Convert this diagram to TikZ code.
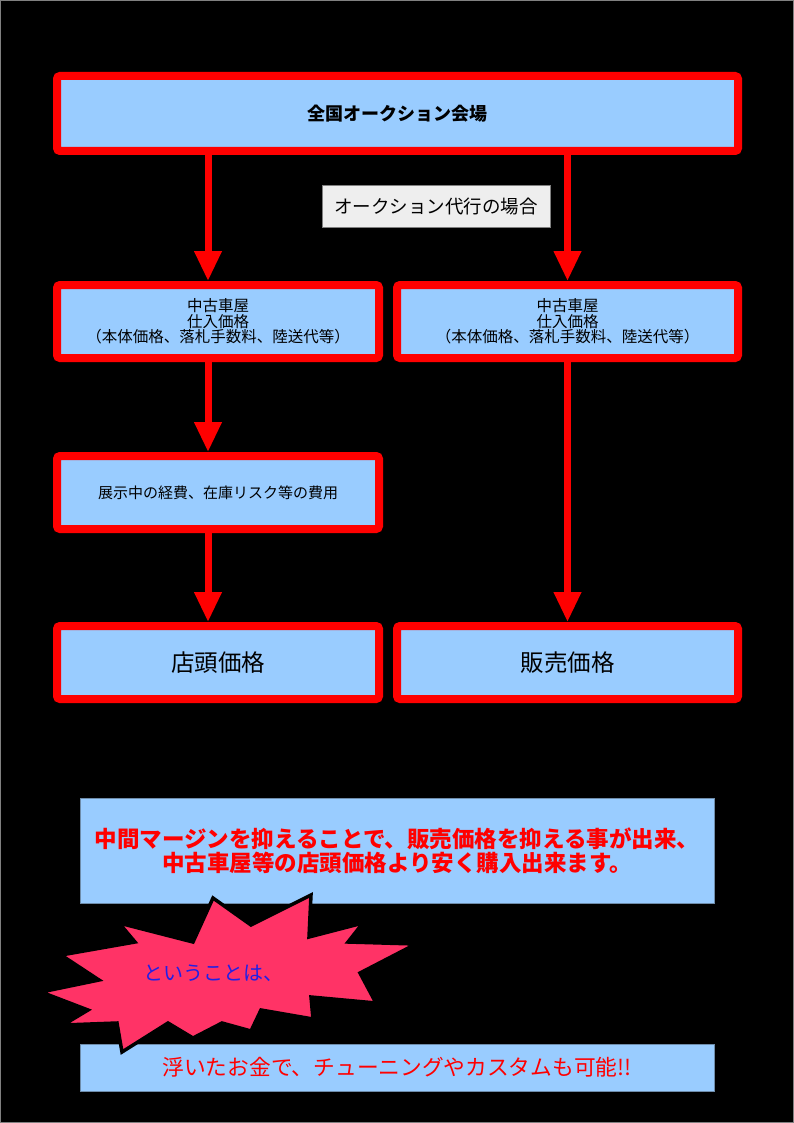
\documentclass[tikz,border=0pt]{standalone}
\usepackage{fontspec}
\setmainfont{Noto Sans CJK JP}
\usetikzlibrary{arrows.meta}
\definecolor{paleblue}{RGB}{153,204,255}
\definecolor{burstpink}{RGB}{255,51,102}
\definecolor{tagblue}{RGB}{32,32,230}
\definecolor{labelgray}{RGB}{238,238,238}
\definecolor{edgeblue}{RGB}{110,140,170}

\begin{document}
\begin{tikzpicture}[x=1pt,y=-1pt,
  redbox/.style={draw=red,line width=8pt,fill=paleblue,rounded corners=3pt,align=center,inner sep=0pt},
  notebox/.style={draw=edgeblue,line width=0.8pt,fill=paleblue,align=center,inner sep=0pt,minimum width=634pt},
  arr/.style={red,line width=7pt,-{Triangle[width=26pt,length=30pt]}},
  burst/.style={fill=burstpink,draw=black,line width=3.5pt,miter limit=3}]
  \fill[black] (0,0) rectangle (794,1123);
  \draw[gray,line width=1pt] (0.5,0.5) rectangle (793.5,1122.5);
  \node[redbox,minimum width=681pt,minimum height=75pt,font=\fontsize{18}{20}\selectfont\bfseries] (hall) at (397.5,113.5) {全国オークション会場};
  \node[fill=labelgray,draw=gray,line width=0.5pt,minimum width=228pt,minimum height=42pt,font=\fontsize{18.5}{20}\selectfont] (proxy) at (436,206) {オークション代行の場合};
  \node[redbox,minimum width=322pt,minimum height=73pt,font=\fontsize{15.5}{15.5}\selectfont] (dealer) at (218,321.5) {中古車屋\\仕入価格\\（本体価格、落札手数料、陸送代等）};
  \node[redbox,minimum width=341pt,minimum height=73pt,font=\fontsize{15.5}{15.5}\selectfont] (proxybuy) at (567.5,321.5) {中古車屋\\仕入価格\\（本体価格、落札手数料、陸送代等）};
  \node[redbox,minimum width=322pt,minimum height=73pt,font=\fontsize{15}{17}\selectfont] (cost) at (218,492.5) {展示中の経費、在庫リスク等の費用};
  \node[redbox,minimum width=322pt,minimum height=73pt,font=\fontsize{23.5}{25}\selectfont] (shop) at (218,662.5) {店頭価格};
  \node[redbox,minimum width=341pt,minimum height=73pt,font=\fontsize{23.5}{25}\selectfont] (sale) at (567.5,662.5) {販売価格};
  \coordinate (lx) at (208,0);
  \draw[arr] (hall.south -| lx) -- (dealer.north -| lx);
  \draw[arr] (hall.south -| proxybuy) -- (proxybuy.north);
  \draw[arr] (dealer.south -| lx) -- (cost.north -| lx);
  \draw[arr] (cost.south -| lx) -- (shop.north -| lx);
  \draw[arr] (proxybuy.south) -- (sale.north);
  % conclusion
  \node[notebox,minimum height=105pt,text=red,font=\fontsize{22.5}{24}\selectfont\bfseries] (cheaper) at (397,850.5) {中間マージンを抑えることで、販売価格を抑える事が出来、\\中古車屋等の店頭価格より安く購入出来ます。};
  \node[notebox,minimum height=47pt,text=red,font=\fontsize{21.7}{23}\selectfont] (tuning) at (397,1067.5) {浮いたお金で、チューニングやカスタムも可能!!};
  \draw[burst] (311,895) -- (309,937) -- (363,923) -- (348,942) -- (416,944) -- (360,973)
    -- (376,1003) -- (311,997) -- (313,1019) -- (261,1010) -- (251,1031) -- (222,1023)
    -- (193,1038) -- (168,1023) -- (122,1052) -- (117,1023) -- (63,1025) -- (88,1010)
    -- (41,992) -- (99,980) -- (61,955) -- (135,942) -- (119,923) -- (193,942)
    -- (213,898) -- (251,925) -- cycle;
  \node[text=tagblue,font=\fontsize{20}{22}\selectfont] (sowhat) at (213,973) {ということは、};
\end{tikzpicture}
\end{document}
